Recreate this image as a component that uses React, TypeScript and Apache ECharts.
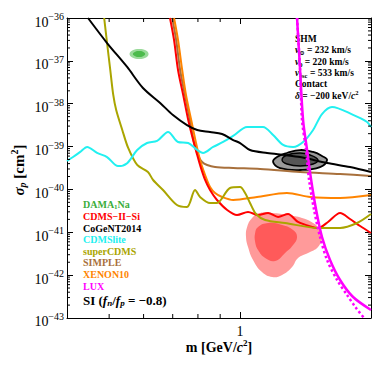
import React, { useEffect, useRef } from 'react';
import * as echarts from 'echarts';

const FONT = '"Liberation Serif", "DejaVu Serif", "Times New Roman", serif';

// ---- exclusion curves: [mass (GeV/c^2), sigma_p (cm^2)] ----
const cogent2014: number[][] = [
  [0.447, 1e-36], [0.4945, 2.61e-37], [0.55, 7.19e-38], [0.598, 2.33e-38], [0.655, 1.04e-38],
  [0.701, 5.46e-39], [0.755, 3.18e-39], [0.797, 2.44e-39], [0.853, 2.19e-39], [0.909, 1.96e-39],
  [0.964, 1.42e-39], [1.0, 1.21e-39], [1.054, 8.3e-40], [1.154, 7.08e-40], [1.269, 6.35e-40],
  [1.374, 5.7e-40], [1.585, 4.14e-40], [1.79, 3.33e-40], [2.0, 2.55e-40],
];
const cdmslite: number[][] = [
  [0.4, 4.6e-40], [0.413, 5.7e-40], [0.429, 7.5e-40], [0.445, 9.8e-40], [0.469, 7.1e-40],
  [0.4945, 5.7e-40], [0.524, 3.5e-40], [0.55, 4.1e-40], [0.58, 8.3e-40], [0.611, 1.21e-39],
  [0.6445, 1.35e-39], [0.683, 2.19e-39], [0.72, 1.28e-39], [0.76, 1.21e-39], [0.797, 8.3e-40],
  [0.822, 7.1e-40], [0.867, 9.8e-40], [0.914, 1.28e-39], [0.964, 1.77e-39], [1.038, 2.86e-39],
  [1.129, 2.86e-39], [1.191, 1.86e-39], [1.256, 1.09e-39], [1.324, 9.8e-40], [1.396, 1.28e-39],
  [1.472, 2.44e-39], [1.543, 5.75e-39], [1.627, 8.4e-39], [1.819, 5.5e-39], [1.959, 3.75e-39],
  [2.0, 2.86e-39],
];
const superCDMS: number[][] = [
  [0.487, 1e-36], [0.4945, 2.61e-37], [0.503, 6.12e-38], [0.511, 1.6e-38], [0.519, 7.14e-39],
  [0.536, 2.44e-39], [0.553, 9.27e-40], [0.58, 3.72e-40], [0.614, 2.55e-40], [0.631, 1.66e-40],
  [0.665, 9.7e-41], [0.716, 4.33e-41], [0.755, 3.89e-41], [0.788, 9.7e-41], [0.809, 6.67e-41],
  [0.853, 4.83e-41], [0.885, 4.83e-41], [0.948, 1.08e-40], [1.0, 1.14e-40], [1.027, 8.25e-41],
  [1.054, 4.83e-41], [1.088, 2.67e-41], [1.142, 1.94e-41], [1.269, 1.65e-41], [1.511, 1.26e-41],
  [1.698, 1.26e-41], [1.858, 1.65e-41], [2.0, 2.67e-41],
];
const cdmsIISi: number[][] = [
  [0.69, 1e-36], [0.705, 3.07e-37], [0.72, 6.12e-38], [0.74, 1.6e-38], [0.76, 4.17e-39],
  [0.78, 1.42e-39], [0.797, 6.35e-40], [0.809, 3.72e-40], [0.831, 1.66e-40], [0.853, 9.7e-41],
  [0.885, 5.66e-41], [0.934, 3.31e-41], [0.984, 2.53e-41], [1.043, 2.97e-41], [1.10, 2.53e-41],
  [1.16, 2.82e-41], [1.223, 2.28e-41], [1.289, 2.67e-41], [1.359, 1.74e-41], [1.464, 1.33e-41],
  [1.511, 1.26e-41], [1.593, 1.74e-41], [1.698, 2.82e-41], [1.79, 2.04e-41], [1.888, 1.4e-41],
  [2.0, 9.62e-42],
];
const xenon10: number[][] = [
  [0.705, 1e-36], [0.72, 3.07e-37], [0.736, 6.12e-38], [0.751, 1.6e-38], [0.772, 4.17e-39],
  [0.792, 1.21e-39], [0.809, 4.86e-40], [0.831, 2.17e-40], [0.853, 1.14e-40], [0.876, 8.25e-41],
  [0.909, 6.67e-41], [0.964, 5.66e-41], [1.094, 6.67e-41], [1.282, 8.25e-41], [1.449, 6.67e-41],
  [1.698, 6.31e-41], [2.0, 7.41e-41],
];
const simple: number[][] = [
  [0.698, 1e-36], [0.713, 3.07e-37], [0.728, 6.12e-38], [0.747, 1.6e-38], [0.767, 4.17e-39],
  [0.784, 1.21e-39], [0.8, 6.35e-40], [0.818, 4.37e-40], [0.84, 3.72e-40], [0.876, 3.33e-40],
  [0.964, 3.16e-40], [1.112, 3.0e-40], [1.374, 2.55e-40], [1.698, 2.29e-40], [2.0, 2.06e-40],
];
const luxSolid: number[][] = [
  [1.352, 1e-36], [1.374, 6.12e-38], [1.396, 4.17e-39], [1.426, 8.3e-40], [1.457, 1.66e-40],
  [1.496, 3.31e-41], [1.543, 7.76e-42], [1.61, 2.26e-42], [1.698, 7.71e-43], [1.819, 3.09e-43],
  [2.0, 1.54e-43],
];
const luxDotted: number[][] = [
  [1.352, 1e-36], [1.374, 6.12e-38], [1.388, 4.17e-39], [1.418, 8.3e-40], [1.441, 1.66e-40],
  [1.48, 3.31e-41], [1.527, 7.76e-42], [1.585, 2.26e-42], [1.671, 7.71e-43], [1.762, 3.44e-43],
  [1.848, 1.71e-43], [1.928, 1e-43],
];

// ---- allowed regions (contour vertices) ----
const damaOuter: number[][] = [
  [0.557, 1.445e-37], [0.565, 1.745e-37], [0.586, 1.89e-37], [0.608, 1.745e-37],
  [0.616, 1.445e-37], [0.608, 1.198e-37], [0.586, 1.105e-37], [0.565, 1.198e-37],
];
const damaInner: number[][] = [
  [0.567, 1.445e-37], [0.574, 1.627e-37], [0.586, 1.7e-37], [0.598, 1.627e-37],
  [0.605, 1.445e-37], [0.598, 1.285e-37], [0.586, 1.23e-37], [0.574, 1.285e-37],
];
const cogentOuter: number[][] = [
  [1.191, 4.37e-40], [1.216, 5.7e-40], [1.282, 7.08e-40], [1.374, 8.3e-40], [1.472, 7.48e-40],
  [1.543, 6.03e-40], [1.585, 4.86e-40], [1.527, 3.33e-40], [1.374, 2.84e-40], [1.236, 3.16e-40],
];
const cogentInner: number[][] = [
  [1.249, 4.86e-40], [1.282, 6.35e-40], [1.374, 7.08e-40], [1.449, 6.35e-40], [1.511, 4.86e-40],
  [1.472, 3.92e-40], [1.374, 3.52e-40], [1.282, 3.92e-40],
];
const cdmsOuter: number[][] = [
  [1.038, 1.33e-41], [1.0655, 2.16e-41], [1.112, 2.82e-41], [1.185, 2.82e-41], [1.289, 2.53e-41],
  [1.388, 2.16e-41], [1.472, 1.65e-41], [1.527, 1.13e-41], [1.543, 7.76e-42], [1.511, 4.54e-42],
  [1.433, 3.29e-42], [1.359, 2.51e-42], [1.317, 1.55e-42], [1.249, 1.01e-42], [1.185, 9.05e-43],
  [1.123, 1.18e-42], [1.071, 2.26e-42], [1.043, 4.54e-42], [1.032, 7.76e-42],
];
const cdmsInner: number[][] = [
  [1.083, 9.62e-42], [1.10, 1.33e-41], [1.16, 1.65e-41], [1.249, 1.48e-41], [1.324, 1.13e-41],
  [1.352, 7.76e-42], [1.324, 5.05e-42], [1.269, 3.29e-42], [1.204, 2.14e-42], [1.142, 2.51e-42],
  [1.10, 3.86e-42], [1.083, 5.93e-42],
];

// ---- ticks ----
const xMinorTicks: number[] = [0.5, 0.6, 0.7, 0.8, 0.9];
const yDecades: number[] = [-43, -42, -41, -40, -39, -38, -37];
const yMinorMultipliers: number[] = [2, 3, 4, 5, 6, 7, 8, 9];
const xTickLabels: string[] = ['1'];

const C = {
  dama: '#3aad3a',
  cdms: '#ff0000',
  cogent: '#000000',
  lite: '#22f0f0',
  super: '#aaa500',
  simple: '#a8703c',
  xenon: '#ff8400',
  lux: '#ff00ff',
};

function regionSeries(pts: number[][], fill: string, stroke: string, lw: number, z: number) {
  return {
    type: 'custom',
    coordinateSystem: 'cartesian2d',
    silent: true,
    z,
    clip: true,
    data: pts,
    encode: { x: 0, y: 1 },
    renderItem: (params: any, api: any) => {
      if (params.dataIndex !== 0) return null;
      return {
        type: 'polygon',
        shape: { points: pts.map((p) => api.coord(p)), smooth: 0.45 },
        style: { fill, stroke, lineWidth: lw },
      };
    },
  };
}

function lineSeries(name: string, data: number[][], color: string, extra: any = {}) {
  return {
    name,
    type: 'line',
    data,
    showSymbol: false,
    smooth: 0.3,
    clip: true,
    z: 5,
    lineStyle: { color, width: 2, ...(extra.lineStyle || {}) },
  };
}

const isDecade = (v: number) => {
  if (!(v > 0)) return false;
  const l = Math.log10(v);
  return Math.abs(l - Math.round(l)) < 0.01;
};

export default function App() {
  const ref = useRef<HTMLDivElement>(null);
  useEffect(() => {
    const chart = echarts.init(ref.current!, null, { renderer: 'svg' });

    const yMinor: number[][] = [];
    yDecades.forEach((d) => yMinorMultipliers.forEach((k) => yMinor.push([1, k * Math.pow(10, d)])));

    const axisCommonX = {
      type: 'log',
      min: 0.4,
      max: 2,
      logBase: 10,
      axisLine: { show: true, onZero: false, lineStyle: { color: '#000', width: 1 } },
      axisTick: { show: true, inside: true, length: 6, lineStyle: { color: '#000' } },
      splitLine: { show: false },
    };
    const axisCommonY = {
      type: 'log',
      min: 0.99995e-43,
      max: 1.00005e-36,
      logBase: 10,
      axisLine: { show: true, onZero: false, lineStyle: { color: '#000', width: 1 } },
      axisTick: { show: true, inside: true, length: 6, lineStyle: { color: '#000' } },
      splitLine: { show: false },
    };

    const option: any = {
      animation: false,
      backgroundColor: '#fff',
      grid: { left: 67, top: 18, right: 3, bottom: 49, containLabel: false, outerBoundsMode: 'none' },
      xAxis: [
        {
          ...axisCommonX,
          position: 'bottom',
          name: '{b|m [GeV/}{i|c}{sup|2}{b|]}',
          nameLocation: 'middle',
          nameGap: 22,
          nameMoveOverlap: false,
          nameTextStyle: {
            fontFamily: FONT,
            fontSize: 14,
            fontWeight: 'bold',
            color: '#000',
            rich: {
              b: { fontFamily: FONT, fontSize: 14, fontWeight: 'bold', color: '#000' },
              i: { fontFamily: FONT, fontSize: 14, fontWeight: 'bold', fontStyle: 'italic', color: '#000' },
              sup: { fontFamily: FONT, fontSize: 9, fontWeight: 'bold', color: '#000', padding: [0, 0, 9, 0], lineHeight: 14 },
            },
          },
          axisLabel: {
            margin: 7,
            fontFamily: FONT,
            fontSize: 14,
            lineHeight: 13,
            color: '#000',
            showMinLabel: false,
            showMaxLabel: false,
            formatter: (v: number) => (Math.abs(v - 1) < 1e-6 ? xTickLabels[0] : ''),
          },
        },
        {
          ...axisCommonX,
          position: 'top',
          axisLabel: { show: false },
        },
      ],
      yAxis: [
        {
          ...axisCommonY,
          position: 'left',
          axisTick: { show: true, inside: true, length: 6, lineStyle: { color: '#000' }, interval: (_i: number, v: any) => isDecade(Number(v)) },
          axisLabel: {
            margin: 3,
            color: '#000',
            showMinLabel: true,
            showMaxLabel: true,
            hideOverlap: false,
            padding: [8, 0, 0, 0],
            formatter: (v: number) => {
              if (!isDecade(v)) return '';
              const e = Math.round(Math.log10(v));
              return `{b|10}{s|${e < 0 ? '\u2212' : ''}${Math.abs(e)}}`;
            },
            rich: {
              b: { fontFamily: FONT, fontSize: 14, color: '#000', lineHeight: 14 },
              s: { fontFamily: FONT, fontSize: 10, color: '#000', padding: [0, 0, 11, 0], lineHeight: 14 },
            },
          },
        },
        {
          ...axisCommonY,
          position: 'right',
          axisLabel: { show: false },
        },
      ],
      graphic: [
        {
          type: 'text',
          x: 19,
          y: 170,
          rotation: Math.PI / 2,
          silent: true,
          style: {
            text: '{i|σ}{sub|p}{b| [cm}{sup|2}{b|]}',
            align: 'center',
            verticalAlign: 'middle',
            fontFamily: FONT,
            fontSize: 15,
            fontWeight: 'bold',
            rich: {
              b: { fill: '#000', fontFamily: FONT, fontSize: 15, fontWeight: 'bold', lineHeight: 16 },
              i: { fill: '#000', fontFamily: FONT, fontSize: 15, fontWeight: 'bold', fontStyle: 'italic', lineHeight: 16 },
              sub: { fill: '#000', fontFamily: FONT, fontSize: 10, fontWeight: 'bold', fontStyle: 'italic', lineHeight: 16, padding: [7, 0, 0, 0] },
              sup: { fill: '#000', fontFamily: FONT, fontSize: 10, fontWeight: 'bold', lineHeight: 16, padding: [0, 0, 10, 0] },
            },
          },
        },
        {
          type: 'text',
          x: 83,
          y: 199,
          silent: true,
          style: {
            text:
              '{g|DAMA}{gs|1}{g|Na}\n{r|CDMS\u2212II\u2212Si}\n{k|CoGeNT2014}\n{c|CDMSlite}\n{o|superCDMS}\n{br|SIMPLE}\n{or|XENON10}\n{m|LUX}',
            fontFamily: FONT,
            fontSize: 10,
            fontWeight: 'bold',
            rich: {
              g: { fill: C.dama, fontFamily: FONT, fontSize: 10, fontWeight: 'bold', lineHeight: 11.6 },
              gs: { fill: C.dama, fontFamily: FONT, fontSize: 7, fontWeight: 'bold', lineHeight: 11.6, padding: [4, 0, 0, 0] },
              r: { fill: C.cdms, fontFamily: FONT, fontSize: 10, fontWeight: 'bold', lineHeight: 11.6 },
              k: { fill: C.cogent, fontFamily: FONT, fontSize: 10, fontWeight: 'bold', lineHeight: 11.6 },
              c: { fill: C.lite, fontFamily: FONT, fontSize: 10, fontWeight: 'bold', lineHeight: 11.6 },
              o: { fill: C.super, fontFamily: FONT, fontSize: 10, fontWeight: 'bold', lineHeight: 11.6 },
              br: { fill: C.simple, fontFamily: FONT, fontSize: 10, fontWeight: 'bold', lineHeight: 11.6 },
              or: { fill: C.xenon, fontFamily: FONT, fontSize: 10, fontWeight: 'bold', lineHeight: 11.6 },
              m: { fill: C.lux, fontFamily: FONT, fontSize: 10, fontWeight: 'bold', lineHeight: 11.6 },
            },
          },
        },
        {
          type: 'text',
          x: 83,
          y: 293,
          silent: true,
          style: {
            text: '{b|SI (}{i|f}{s|n}{b|/}{i|f}{s|p}{b| = \u22120.8)}',
            fontFamily: FONT,
            fontSize: 13,
            fontWeight: 'bold',
            rich: {
              b: { fill: '#000', fontFamily: FONT, fontSize: 13, fontWeight: 'bold', lineHeight: 14 },
              i: { fill: '#000', fontFamily: FONT, fontSize: 13, fontWeight: 'bold', fontStyle: 'italic', lineHeight: 14 },
              s: { fill: '#000', fontFamily: FONT, fontSize: 9, fontWeight: 'bold', fontStyle: 'italic', lineHeight: 14, padding: [6, 0, 0, 0] },
            },
          },
        },
        {
          type: 'text',
          x: 295,
          y: 33,
          silent: true,
          style: {
            text:
              '{t|SHM}\n{i|v}{s|\u2299}{t| = 232 km/s}\n{i|v}{s|0}{t| = 220 km/s}\n{i|v}{s|esc}{t| = 533 km/s}\n{t|Contact}\n{i|\u03b4}{t| = \u2212200 keV/}{i|c}{p|2}',
            fontFamily: FONT,
            fontSize: 9.5,
            fontWeight: 'bold',
            rich: {
              t: { fill: '#000', fontFamily: FONT, fontSize: 9.5, fontWeight: 'bold', lineHeight: 11.4 },
              i: { fill: '#000', fontFamily: FONT, fontSize: 9.5, fontWeight: 'bold', fontStyle: 'italic', lineHeight: 11.4 },
              s: { fill: '#000', fontFamily: FONT, fontSize: 6.5, fontWeight: 'bold', lineHeight: 11.4, padding: [5, 0, 0, 0] },
              p: { fill: '#000', fontFamily: FONT, fontSize: 6.5, fontWeight: 'bold', lineHeight: 11.4, padding: [0, 0, 6, 0] },
            },
          },
        },
      ],
      series: [
        regionSeries(damaOuter, '#9ada9a', 'none', 0, 2),
        regionSeries(damaInner, '#4cbb4c', 'none', 0, 3),
        regionSeries(cogentOuter, '#9a9a9a', '#000', 1.8, 2),
        regionSeries(cogentInner, '#555555', '#000', 1.4, 3),
        regionSeries(cdmsOuter, '#ff9a9a', 'none', 0, 2),
        regionSeries(cdmsInner, '#ff5a5a', 'none', 0, 3),
        lineSeries('SIMPLE', simple, C.simple),
        lineSeries('XENON10', xenon10, C.xenon),
        lineSeries('CDMS-II-Si', cdmsIISi, C.cdms),
        lineSeries('superCDMS', superCDMS, C.super),
        lineSeries('CDMSlite', cdmslite, C.lite),
        lineSeries('CoGeNT2014', cogent2014, C.cogent),
        lineSeries('LUX', luxSolid, C.lux, { lineStyle: { width: 2.5 } }),
        lineSeries('LUX (alt)', luxDotted, C.lux, { lineStyle: { width: 2.5, type: [2.5, 2.5] } }),
        {
          type: 'custom',
          coordinateSystem: 'cartesian2d',
          silent: true,
          clip: false,
          z: 10,
          data: yMinor,
          encode: { x: 0, y: 1 },
          renderItem: (params: any, api: any) => {
            const y = api.coord([1, api.value(1)])[1];
            const cs = params.coordSys;
            return {
              type: 'group',
              children: [
                { type: 'line', shape: { x1: cs.x, y1: y, x2: cs.x + 3, y2: y }, style: { stroke: '#000', lineWidth: 1 } },
                { type: 'line', shape: { x1: cs.x + cs.width, y1: y, x2: cs.x + cs.width - 3, y2: y }, style: { stroke: '#000', lineWidth: 1 } },
              ],
            };
          },
        },
        {
          type: 'custom',
          coordinateSystem: 'cartesian2d',
          silent: true,
          clip: false,
          z: 10,
          data: xMinorTicks.map((v) => [v, 1e-40]),
          encode: { x: 0, y: 1 },
          renderItem: (params: any, api: any) => {
            const x = api.coord([api.value(0), 1e-40])[0];
            const cs = params.coordSys;
            return {
              type: 'group',
              children: [
                { type: 'line', shape: { x1: x, y1: cs.y + cs.height, x2: x, y2: cs.y + cs.height - 4 }, style: { stroke: '#000', lineWidth: 1 } },
                { type: 'line', shape: { x1: x, y1: cs.y, x2: x, y2: cs.y + 4 }, style: { stroke: '#000', lineWidth: 1 } },
              ],
            };
          },
        },
      ],
    };

    chart.setOption(option);
    return () => chart.dispose();
  }, []);
  return (
    <div
      ref={ref}
      style={{ position: 'absolute', left: 0, top: 0, width: 374, height: 367, background: '#fff' }}
    />
  );
}
